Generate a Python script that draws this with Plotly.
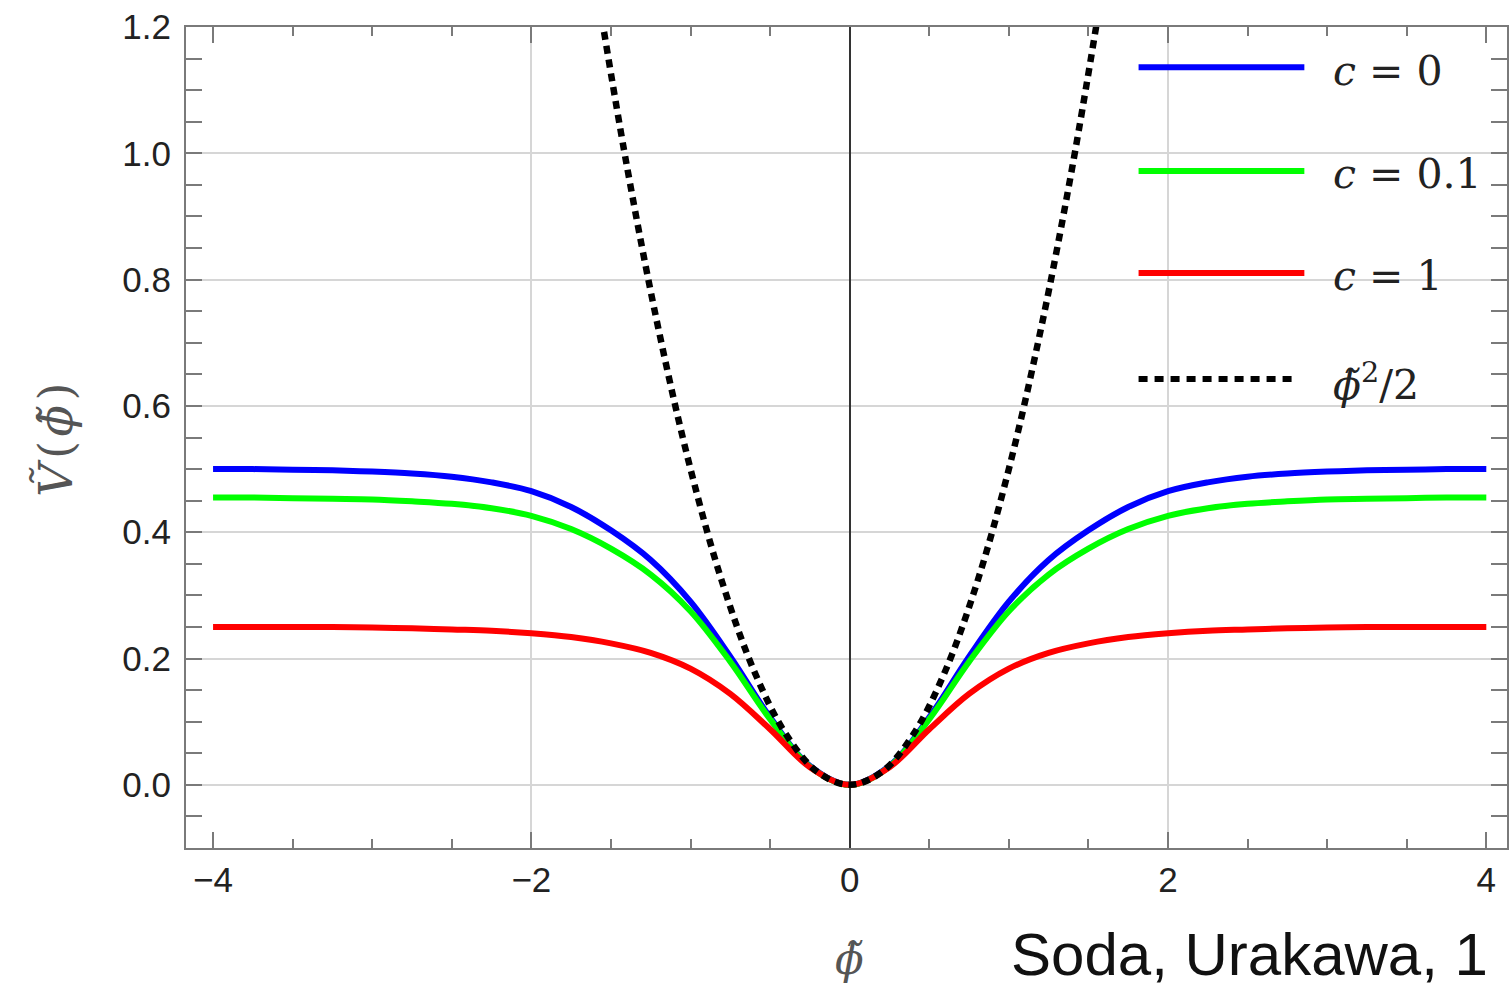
import plotly.graph_objects as go

# ---- data ----
phi = [-4.0, -3.75, -3.5, -3.25, -3.0, -2.75, -2.5, -2.25, -2.0, -1.75, -1.5, -1.25, -1.0, -0.75, -0.5, -0.25, 0.0,
       0.25, 0.5, 0.75, 1.0, 1.25, 1.5, 1.75, 2.0, 2.25, 2.5, 2.75, 3.0, 3.25, 3.5, 3.75, 4.0]
v_c0 = [0.500, 0.500, 0.499, 0.498, 0.496, 0.493, 0.488, 0.479, 0.465, 0.440, 0.403, 0.356, 0.290, 0.203, 0.107, 0.030, 0.000,
        0.030, 0.107, 0.203, 0.290, 0.356, 0.403, 0.440, 0.465, 0.479, 0.488, 0.493, 0.496, 0.498, 0.499, 0.500, 0.500]
v_c01 = [0.455, 0.455, 0.454, 0.453, 0.452, 0.449, 0.445, 0.438, 0.426, 0.405, 0.374, 0.333, 0.275, 0.195, 0.104, 0.029, 0.000,
         0.029, 0.104, 0.195, 0.275, 0.333, 0.374, 0.405, 0.426, 0.438, 0.445, 0.449, 0.452, 0.453, 0.454, 0.455, 0.455]
v_c1 = [0.250, 0.250, 0.250, 0.250, 0.249, 0.248, 0.246, 0.244, 0.240, 0.234, 0.224, 0.209, 0.184, 0.144, 0.088, 0.028, 0.000,
        0.028, 0.088, 0.144, 0.184, 0.209, 0.224, 0.234, 0.240, 0.244, 0.246, 0.248, 0.249, 0.250, 0.250, 0.250, 0.250]
phi_q = [-1.6, -1.4, -1.2, -1.0, -0.8, -0.6, -0.4, -0.2, 0.0, 0.2, 0.4, 0.6, 0.8, 1.0, 1.2, 1.4, 1.6]
v_q = [1.28, 0.98, 0.72, 0.50, 0.32, 0.18, 0.08, 0.02, 0.00, 0.02, 0.08, 0.18, 0.32, 0.50, 0.72, 0.98, 1.28]

series_names = ["<i>c</i> = 0", "<i>c</i> = 0.1", "<i>c</i> = 1", "<i>ϕ̃</i><sup>2</sup>/2"]
series_colors = ["#0000ff", "#00ff00", "#ff0000", "#000000"]
x_major_vals = [-4, -2, 2, 4]
x_major_text = ["−4", "−2", "2", "4"]
x_minor_vals = [-3.5, -3, -2.5, -1.5, -1, -0.5, 0.5, 1, 1.5, 2.5, 3, 3.5]
x_zero_vals = [0]
x_zero_text = ["0"]
x_grid_vals = [-2, 2]

fig = go.Figure()
for yv, name, col in zip([v_c0, v_c01, v_c1], series_names[:3], series_colors[:3]):
    fig.add_trace(go.Scatter(x=phi, y=yv, mode="lines", name=name,
                             line=dict(color=col, width=6, shape="spline", smoothing=1.0),
                             showlegend=False, hoverinfo="skip"))
fig.add_trace(go.Scatter(x=phi_q, y=v_q, mode="lines", name=series_names[3],
                         line=dict(color=series_colors[3], width=6.5, dash="8px,6px",
                                   shape="spline", smoothing=1.0),
                         showlegend=False, hoverinfo="skip"))
# helper traces to activate the overlay axes ("0" label; grid lines at ±2)
fig.add_trace(go.Scatter(x=[None], y=[None], xaxis="x2", yaxis="y", showlegend=False, hoverinfo="skip"))
fig.add_trace(go.Scatter(x=[None], y=[None], xaxis="x3", yaxis="y", showlegend=False, hoverinfo="skip"))

tick_font = dict(family="Liberation Sans, Arial, sans-serif", size=35, color="#222222")
math_font = "DejaVu Serif, Liberation Serif, serif"
frame_col = "#7a7a7a"
grid_col = "#d6d6d6"

fig.update_layout(
    width=1509, height=989,
    margin=dict(l=186, r=0, t=27, b=141),
    paper_bgcolor="white", plot_bgcolor="white",
    xaxis=dict(range=[-4.17, 4.13], tickmode="array", tickvals=x_major_vals, ticktext=x_major_text,
               ticks="inside", ticklen=16, tickwidth=1.5, tickcolor=frame_col,
               minor=dict(tickmode="array", tickvals=x_minor_vals, ticks="inside", ticklen=9,
                          tickwidth=1.5, tickcolor=frame_col, showgrid=False),
               showgrid=False, zeroline=True, zerolinecolor="#333333", zerolinewidth=2,
               showline=True, linecolor=frame_col, linewidth=2, mirror="allticks",
               tickfont=tick_font, ticklabelstandoff=0),
    xaxis2=dict(overlaying="x", matches="x", anchor="y", tickmode="array",
                tickvals=x_zero_vals, ticktext=x_zero_text, showgrid=False,
                tickfont=tick_font, ticklabelstandoff=8,
                ticks="", zeroline=False, showline=False),
    xaxis3=dict(overlaying="x", matches="x", anchor="y", tickmode="array",
                tickvals=x_grid_vals, showgrid=True, gridcolor=grid_col, gridwidth=2,
                showticklabels=False, ticks="", zeroline=False, showline=False),
    yaxis=dict(range=[-0.1, 1.2], tick0=0, dtick=0.2, tickformat=".1f",
               ticks="inside", ticklen=16, tickwidth=1.5, tickcolor=frame_col,
               minor=dict(dtick=0.05, tick0=0, ticks="inside", ticklen=9, tickwidth=1.5,
                          tickcolor=frame_col, showgrid=False),
               showgrid=True, gridcolor=grid_col, gridwidth=2,
               zeroline=True, zerolinecolor=grid_col, zerolinewidth=2,
               showline=True, linecolor=frame_col, linewidth=2, mirror="allticks",
               tickfont=tick_font, ticklabelstandoff=6),
)

# legend drawn as long line samples + math-style labels, as in the reference
leg_y = [0.951, 0.8246, 0.7004, 0.5713]
leg_x0 = 0.7211
leg_x1 = [0.8466, 0.8466, 0.8466, 0.8398]
for i in range(4):
    fig.add_shape(type="line", xref="paper", yref="paper", x0=leg_x0, x1=leg_x1[i],
                  y0=leg_y[i], y1=leg_y[i],
                  line=dict(color=series_colors[i], width=6, dash="solid" if i < 3 else "9px,7px"))
    fig.add_annotation(xref="paper", yref="paper", x=0.867, y=leg_y[i] - 0.004,
                       xanchor="left", yanchor="middle", showarrow=False,
                       text=series_names[i],
                       font=dict(family=math_font, size=41, color="#222222"))

# axis titles
fig.add_annotation(xref="paper", yref="paper", x=-0.0985, y=0.497, textangle=-90,
                   text="<i>Ṽ</i>\u200a(\u200a<i>ϕ̃</i>\u200a)", showarrow=False,
                   xanchor="center", yanchor="middle",
                   font=dict(family=math_font, size=46, color="#555555"))
fig.add_annotation(xref="paper", yref="paper", x=0.5026, y=-0.136,
                   text="<i>ϕ̃</i>", showarrow=False, xanchor="center", yanchor="middle",
                   font=dict(family=math_font, size=42, color="#555555"))
# citation text (cropped at right edge in the reference)
fig.add_annotation(xref="paper", yref="paper", x=(1010 - 186) / 1323, y=-0.130,
                   text="Soda, Urakawa, 1", showarrow=False, xanchor="left", yanchor="middle",
                   font=dict(family="Liberation Sans, Arial, sans-serif", size=60, color="#111111"))

fig.write_html("out.html")
